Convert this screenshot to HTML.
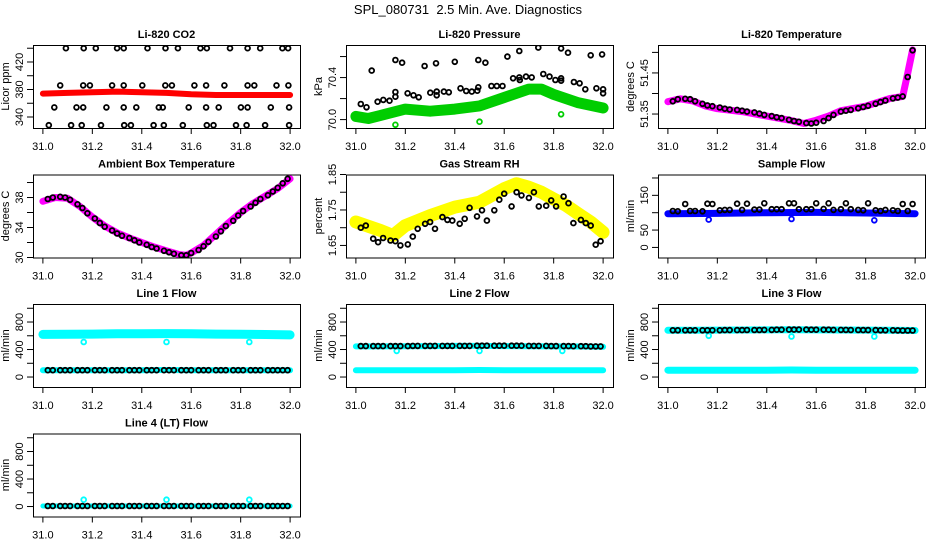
<!DOCTYPE html>
<html><head><meta charset="utf-8"><style>
html,body{margin:0;padding:0;background:#fff;}
svg{display:block;font-family:"Liberation Sans",Arial,sans-serif;}
</style></head><body>
<svg id="c" width="936" height="540" viewBox="0 0 936 540">
<text x="468" y="14" text-anchor="middle" font-size="13" style="white-space:pre">SPL_080731  2.5 Min. Ave. Diagnostics</text>
</svg>
<script>
// ---- shared sample times (black points) ----
const T = [31.02,31.04,31.07,31.09,31.11,31.14,31.16,31.18,31.21,31.23,31.25,31.28,31.30,31.32,31.35,31.37,31.39,31.42,31.44,31.46,31.49,31.51,31.53,31.56,31.58,31.60,31.63,31.65,31.67,31.70,31.72,31.74,31.77,31.79,31.81,31.84,31.86,31.88,31.91,31.93,31.95,31.97,31.99];
const xTicks = [31.0,31.2,31.4,31.6,31.8,32.0];
const xTickLabels = ["31.0","31.2","31.4","31.6","31.8","32.0"];

// CO2
const co2BandX = [31.0,31.1,31.2,31.3,31.4,31.5,31.6,31.7,31.8,31.9,32.0];
const co2BandY = [374,375,376,377,376,375,373,372,372,372,372];
const co2PtX = [31.093,31.165,31.214,31.3,31.327,31.423,31.496,31.546,31.637,31.663,31.757,31.828,31.879,31.969,31.992,
 31.070,31.163,31.190,31.280,31.327,31.402,31.495,31.522,31.613,31.660,31.734,31.828,31.855,31.945,31.993,
 31.046,31.136,31.163,31.257,31.327,31.378,31.469,31.485,31.590,31.660,31.711,31.801,31.828,31.922,31.996,
 31.024,31.114,31.157,31.235,31.329,31.356,31.448,31.489,31.566,31.663,31.690,31.781,31.824,31.899,31.996];
const co2PtY = [440,440,440,440,440,440,440,440,440,440,440,440,440,440,440,
 386,386,386,386,386,386,386,386,386,386,386,386,386,386,386,
 354,354,354,354,354,354,354,354,354,354,354,354,354,354,354,
 328,328,328,328,328,328,328,328,328,328,328,328,328,328,328];

// Pressure
const presBandX = [31.0,31.05,31.1,31.2,31.3,31.4,31.5,31.6,31.7,31.75,31.8,31.9,32.0];
const presBandY = [70.03,70.01,70.04,70.10,70.08,70.10,70.13,70.21,70.29,70.29,70.24,70.16,70.11];
const presOutX = [31.16,31.50,31.83];
const presOutY = [69.95,69.98,70.05];
const presPtX = [31.02,31.043,31.064,31.088,31.111,31.136,31.16,31.16,31.16,31.187,31.209,31.233,31.254,31.278,31.301,31.324,31.327,31.327,31.356,31.376,31.4,31.423,31.446,31.469,31.491,31.495,31.495,31.524,31.548,31.57,31.593,31.613,31.636,31.661,31.661,31.663,31.688,31.711,31.738,31.758,31.783,31.807,31.83,31.83,31.83,31.858,31.882,31.905,31.928,31.95,31.973,31.996,32.0,32.0];
const presPtY = [70.148,70.117,70.466,70.17,70.187,70.18,70.567,70.263,70.218,70.542,70.25,70.231,70.212,70.51,70.256,70.536,70.266,70.231,70.266,70.26,70.55,70.298,70.272,70.266,70.275,70.567,70.307,70.542,70.32,70.32,70.32,70.6,70.393,70.653,70.402,70.377,70.409,70.402,70.685,70.434,70.409,70.377,70.678,70.393,70.37,70.637,70.358,70.345,70.288,70.612,70.298,70.621,70.288,70.25];

// Li-820 temperature
const tempBandX = [31.0,31.05,31.1,31.15,31.2,31.3,31.4,31.5,31.55,31.6,31.65,31.7,31.8,31.9,31.95,31.97,31.99];
const tempBandY = [51.380,51.387,51.382,51.370,51.363,51.356,51.345,51.334,51.327,51.335,51.345,51.358,51.369,51.388,51.393,51.449,51.506];
const tempPtY = [51.381,51.386,51.387,51.386,51.381,51.375,51.371,51.369,51.366,51.363,51.361,51.360,51.358,51.356,51.354,51.351,51.348,51.345,51.342,51.340,51.336,51.333,51.331,51.328,51.327,51.329,51.333,51.340,51.348,51.356,51.358,51.360,51.364,51.367,51.370,51.375,51.379,51.383,51.388,51.390,51.393,51.440,51.505];

// Ambient box temperature
const ambBandX = [31.0,31.05,31.1,31.15,31.2,31.25,31.3,31.35,31.4,31.45,31.5,31.55,31.58,31.6,31.65,31.7,31.75,31.8,31.85,31.9,31.95,32.0];
const ambBandY = [37.5,38.0,37.9,36.8,35.4,34.2,33.3,32.6,32.0,31.4,30.9,30.4,30.3,30.6,31.6,33.1,34.6,36.0,37.2,38.2,39.2,40.5];
const ambPtY = [37.8,38.0,38.1,38.0,37.7,37.1,36.6,35.9,35.2,34.6,34.1,33.6,33.2,32.9,32.6,32.3,32.0,31.7,31.4,31.2,30.9,30.7,30.5,30.3,30.3,30.6,31.0,31.5,32.1,32.8,33.5,34.2,34.9,35.6,36.2,36.8,37.3,37.8,38.3,38.8,39.3,39.9,40.5];

// Gas stream RH
const rhBandX = [31.0,31.1,31.15,31.2,31.3,31.4,31.5,31.6,31.65,31.7,31.75,31.8,31.85,31.9,31.95,32.0];
const rhBandY = [1.716,1.692,1.678,1.706,1.734,1.758,1.772,1.81,1.824,1.814,1.8,1.781,1.763,1.739,1.716,1.687];
const rhPtY = [1.700,1.706,1.669,1.659,1.671,1.664,1.662,1.650,1.653,1.675,1.697,1.711,1.716,1.697,1.730,1.722,1.720,1.711,1.725,1.756,1.732,1.749,1.720,1.749,1.779,1.796,1.760,1.800,1.791,1.784,1.800,1.760,1.762,1.777,1.760,1.788,1.769,1.713,1.722,1.713,1.706,1.652,1.662];

// Sample flow
const sfBandX = [31.0,31.2,31.4,31.6,31.8,32.0];
const sfBandY = [97,98,100,101,99,97];
const sfPtY = [105,104,125,105,105,104,126,125,107,108,108,126,108,126,109,109,127,110,110,110,127,127,110,110,110,127,111,127,108,110,127,110,108,107,127,107,105,108,107,105,125,105,125];
const sfOutX = [31.165,31.5,31.835];
const sfOutY = [80,82,78];

// Line flows
const l1Upper = [620,622,625,628,630,632,628,625,622,618,612];
const l1PtY = [100,100,100,100,100,100,100,100,100,100,100,100,100,100,100,100,100,100,100,100,100,100,100,100,100,100,100,100,100,100,100,100,100,100,100,100,100,100,100,100,100,100,100];
const l2Upper = [445,445,448,450,452,452,450,448,446,444,440];
const l2PtY = [450,450,450,450,450,450,450,450,450,452,452,452,452,452,452,452,452,452,452,452,455,455,455,455,455,455,455,455,455,452,452,452,452,450,450,450,450,448,448,448,445,445,445];
const l3Upper = [680,680,682,684,686,688,686,684,682,680,676];
const l3PtY = [680,680,680,680,680,680,680,680,680,682,682,682,682,684,684,684,686,686,688,688,690,690,690,690,688,688,688,688,686,686,686,684,684,682,682,682,680,680,680,678,676,676,676];
const l4PtY = [8,8,8,8,8,8,8,8,8,8,8,8,8,8,8,8,8,8,8,8,8,8,8,8,8,8,8,8,8,8,8,8,8,8,8,8,8,8,8,8,8,8,8];
const flowBandX = [31.0,31.1,31.2,31.3,31.4,31.5,31.6,31.7,31.8,31.9,32.0];
const lowerBand = [100,100,100,100,100,102,100,100,100,100,100];
const l4Band = [8,8,8,8,8,8,8,8,8,8,8];
const flowOutX = [31.165,31.5,31.835];
const l1OutY = [510,510,510];
const l2OutY = [380,380,380];
const l3OutY = [600,590,590];
const l4OutY = [100,100,100];

const NS = "http://www.w3.org/2000/svg";
const svg = document.getElementById("c");
const colL = [33,346,658], rowT = [45,174.5,304,433.5];
const BW = 267, BH = 83;
function mk(tag, attrs, parent){ const e=document.createElementNS(NS,tag); for(const k in attrs) e.setAttribute(k,attrs[k]); (parent||svg).appendChild(e); return e; }

function panel(cfg){
  const L=colL[cfg.col], Tp=rowT[cfg.row];
  const g = mk("g",{});
  
  
  const xs = v => L + BW*0.04/1.08 + (v-31)*BW/1.08;
  const ys = v => Tp + BH - (v-cfg.ymin)/(cfg.ymax-cfg.ymin)*BH;
  const clipId = "cl"+cfg.name;
  const cp = mk("clipPath",{id:clipId},g); mk("rect",{x:L,y:Tp,width:BW,height:BH},cp);
  const plot = mk("g",{"clip-path":"url(#"+clipId+")"},g);
  
  
  (cfg.bands||[]).forEach(b=>{
    const pts = b.x.map((v,i)=>xs(v).toFixed(1)+","+ys(b.y[i]).toFixed(1)).join(" ");
    const pl = mk("polyline",{points:pts,fill:"none",stroke:b.color,"stroke-width":b.w,"stroke-linejoin":"round","stroke-linecap":"round"},plot);
    
    
  });
  (cfg.points||[]).forEach(p=>{
    p.x.forEach((v,i)=>{
      const c = mk("circle",{cx:xs(v).toFixed(1),cy:ys(p.y[i]).toFixed(1),r:2.4,fill:"none",stroke:p.color,"stroke-width":1.8},plot);
      
      
    });
  });
  const box = mk("rect",{x:L+0.5,y:Tp+0.5,width:BW,height:BH,fill:"none",stroke:"#000","stroke-width":1},g);
  
  
  xTicks.forEach((v,i)=>{
    const x=xs(v);
    mk("line",{x1:x,x2:x,y1:Tp+BH,y2:Tp+BH+6,stroke:"#000"},g);
    const t=mk("text",{x:x,y:Tp+BH+22,"text-anchor":"middle","font-size":11},g);
    t.textContent=xTickLabels[i];
    
    
  });
  cfg.yt.forEach(v=>{
    const y=ys(v);
    mk("line",{x1:L,x2:L-6,y1:y,y2:y,stroke:"#000"},g);
  });
  cfg.yl.forEach((v,i)=>{
    const y=ys(v);
    const t=mk("text",{x:L-10,y:y,"text-anchor":"middle","font-size":11,transform:"rotate(-90 "+(L-10)+" "+y+")"},g);
    t.textContent=cfg.ylt[i];
    
    
  });
  const yt=mk("text",{x:L-24,y:Tp+BH/2,"text-anchor":"middle","font-size":11,transform:"rotate(-90 "+(L-24)+" "+(Tp+BH/2)+")"},g);
  yt.textContent=cfg.ylab;
  
  
  const tt=mk("text",{x:L+BW/2,y:Tp-7,"text-anchor":"middle","font-size":11,"font-weight":"bold"},g);
  tt.textContent=cfg.title;
  
  
}

const flowTicks=[0,200,400,600,800,1000], flowLab=[0,400,800], flowLabT=["0","400","800"];
panel({name:"co2-panel",col:0,row:0,title:"Li-820 CO2",ylab:"Licor ppm",ymin:324,ymax:444.7,yt:[340,360,380,400,420,440],yl:[340,380,420],ylt:["340","380","420"],
  bands:[{name:"co2-series",x:co2BandX,y:co2BandY,color:"#ff0000",w:6}],
  points:[{name:"co2-avg-point",x:co2PtX,y:co2PtY,color:"#000"}]});
panel({name:"pressure-panel",col:1,row:0,title:"Li-820 Pressure",ylab:"kPa",ymin:69.92,ymax:70.71,yt:[70.0,70.2,70.4,70.6],yl:[70.0,70.4],ylt:["70.0","70.4"],
  bands:[{name:"pressure-series",x:presBandX,y:presBandY,color:"#00cd00",w:11}],
  points:[{name:"pressure-outlier",x:presOutX,y:presOutY,color:"#00cd00"},{name:"pressure-avg-point",x:presPtX,y:presPtY,color:"#000"}]});
panel({name:"temperature-panel",col:2,row:0,title:"Li-820 Temperature",ylab:"degrees C",ymin:51.316,ymax:51.518,yt:[51.35,51.40,51.45,51.50],yl:[51.35,51.45],ylt:["51.35","51.45"],
  bands:[{name:"temperature-series",x:tempBandX,y:tempBandY,color:"#ff00ff",w:7}],
  points:[{name:"temperature-avg-point",x:T,y:tempPtY,color:"#000"}]});
panel({name:"ambient-panel",col:0,row:1,title:"Ambient Box Temperature",ylab:"degrees C",ymin:30,ymax:41.07,yt:[30,32,34,36,38,40],yl:[30,34,38],ylt:["30","34","38"],
  bands:[{name:"ambient-series",x:ambBandX,y:ambBandY,color:"#ff00ff",w:7}],
  points:[{name:"ambient-avg-point",x:T,y:ambPtY,color:"#000"}]});
panel({name:"rh-panel",col:1,row:1,title:"Gas Stream RH",ylab:"percent",ymin:1.616,ymax:1.85,yt:[1.65,1.70,1.75,1.80,1.85],yl:[1.65,1.75,1.85],ylt:["1.65","1.75","1.85"],
  bands:[{name:"rh-series",x:rhBandX,y:rhBandY,color:"#ffff00",w:13}],
  points:[{name:"rh-avg-point",x:T,y:rhPtY,color:"#000"}]});
panel({name:"sample-flow-panel",col:2,row:1,title:"Sample Flow",ylab:"ml/min",ymin:-29,ymax:210,yt:[0,50,100,150,200],yl:[0,50,150],ylt:["0","50","150"],
  bands:[{name:"sample-flow-series",x:sfBandX,y:sfBandY,color:"#0000ff",w:7}],
  points:[{name:"sample-flow-outlier",x:sfOutX,y:sfOutY,color:"#0000ff"},{name:"sample-flow-avg-point",x:T,y:sfPtY,color:"#000"}]});
panel({name:"line1-panel",col:0,row:2,title:"Line 1 Flow",ylab:"ml/min",ymin:-145,ymax:1062,yt:flowTicks,yl:flowLab,ylt:flowLabT,
  bands:[{name:"line1-upper-series",x:flowBandX,y:l1Upper,color:"#00ffff",w:9},{name:"line1-lower-series",x:flowBandX,y:lowerBand,color:"#00ffff",w:6}],
  points:[{name:"line1-outlier",x:flowOutX,y:l1OutY,color:"#00ffff"},{name:"line1-avg-point",x:T,y:l1PtY,color:"#000"}]});
panel({name:"line2-panel",col:1,row:2,title:"Line 2 Flow",ylab:"ml/min",ymin:-145,ymax:1062,yt:flowTicks,yl:flowLab,ylt:flowLabT,
  bands:[{name:"line2-upper-series",x:flowBandX,y:l2Upper,color:"#00ffff",w:6},{name:"line2-lower-series",x:flowBandX,y:lowerBand,color:"#00ffff",w:6}],
  points:[{name:"line2-outlier",x:flowOutX,y:l2OutY,color:"#00ffff"},{name:"line2-avg-point",x:T,y:l2PtY,color:"#000"}]});
panel({name:"line3-panel",col:2,row:2,title:"Line 3 Flow",ylab:"ml/min",ymin:-145,ymax:1062,yt:flowTicks,yl:flowLab,ylt:flowLabT,
  bands:[{name:"line3-upper-series",x:flowBandX,y:l3Upper,color:"#00ffff",w:7},{name:"line3-lower-series",x:flowBandX,y:lowerBand,color:"#00ffff",w:7}],
  points:[{name:"line3-outlier",x:flowOutX,y:l3OutY,color:"#00ffff"},{name:"line3-avg-point",x:T,y:l3PtY,color:"#000"}]});
panel({name:"line4-panel",col:0,row:3,title:"Line 4 (LT) Flow",ylab:"ml/min",ymin:-145,ymax:1062,yt:flowTicks,yl:flowLab,ylt:flowLabT,
  bands:[{name:"line4-series",x:flowBandX,y:l4Band,color:"#00ffff",w:5}],
  points:[{name:"line4-outlier",x:flowOutX,y:l4OutY,color:"#00ffff"},{name:"line4-avg-point",x:T,y:l4PtY,color:"#000"}]});
</script>
</body></html>
